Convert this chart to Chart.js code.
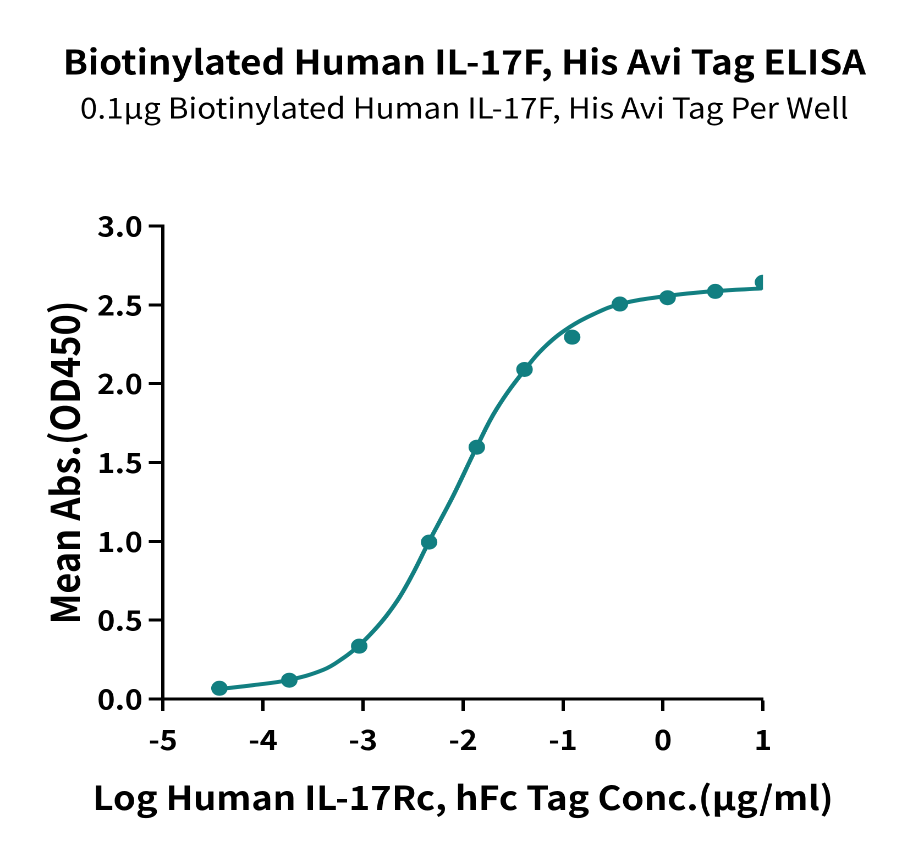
<!DOCTYPE html>
<html>
<head>
<meta charset="utf-8">
<script src="https://cdn.jsdelivr.net/npm/chart.js@4/dist/chart.umd.min.js"></script>
<style>
  html, body { margin: 0; padding: 0; background: #fff; overflow: hidden; }
  /* the reference is a little wider than tall, so stretch the drawing sideways */
  #wrap { width: 818.18px; height: 855px; transform: scaleX(1.1); transform-origin: 0 0; }
</style>
</head>
<body>
<div id="wrap"><canvas id="elisa"></canvas></div>
<script>
// measured points (log conc, OD450)
const logConc = [-4.436, -3.737, -3.038, -2.339, -1.862, -1.385, -0.908, -0.431, 0.046, 0.523, 1.0];
const meanAbs = [0.068, 0.119, 0.335, 0.995, 1.597, 2.09, 2.295, 2.505, 2.545, 2.585, 2.643];

// fitted curve
const curveX = [-4.447, -4.097, -3.747, -3.397, -3.197, -3.047, -2.897, -2.763, -2.63, -2.497, -2.347, -2.23, -2.097, -1.863, -1.663, -1.38, -1.163, -0.93, -0.697, -0.43, 0.037, 0.52, 0.987];
const curveY = [0.062, 0.088, 0.12, 0.185, 0.26, 0.335, 0.43, 0.53, 0.65, 0.8, 0.99, 1.13, 1.29, 1.598, 1.84, 2.09, 2.245, 2.36, 2.44, 2.505, 2.556, 2.587, 2.604];

const xTicks = [-5, -4, -3, -2, -1, 0, 1];
const yTicks = [0, 0.5, 1.0, 1.5, 2.0, 2.5, 3.0];

const X_TITLE = 'Log Human IL-17Rc, hFc Tag Conc.(μg/ml)';
const teal = '#127f81';
const FONT = "'Noto Sans CJK SC', 'Noto Sans', sans-serif";

// Chart.js squeezes an axis title to the plot width; this one is wider, so draw it here
const xTitlePlugin = {
    id: 'xTitle',
    afterDraw(chart) {
        const { ctx, chartArea } = chart;
        ctx.save();
        ctx.font = `bold 33px ${FONT}`;
        ctx.fillStyle = '#000';
        ctx.textAlign = 'center';
        ctx.textBaseline = 'middle';
        ctx.fillText(X_TITLE, (chartArea.left + chartArea.right) / 2, chart.scales.x.bottom - 57.5);
        ctx.restore();
    }
};

new Chart(document.getElementById('elisa'), {
    type: 'scatter',
    data: {
        datasets: [
            {
                label: 'Mean Abs.',
                data: logConc.map((x, i) => ({ x: x, y: meanAbs[i] })),
                backgroundColor: teal,
                borderColor: teal,
                pointRadius: 7,
                pointHoverRadius: 7,
                order: 0
            },
            {
                label: 'Fit',
                data: curveX.map((x, i) => ({ x: x, y: curveY[i] })),
                showLine: true,
                borderColor: teal,
                borderWidth: 4,
                pointRadius: 0,
                tension: 0.4,
                order: 1
            }
        ]
    },
    plugins: [xTitlePlugin],
    options: {
        responsive: true,
        maintainAspectRatio: false,
        animation: false,
        devicePixelRatio: 2,
        layout: { padding: { top: 41.6, left: 26, right: 0, bottom: 0 } },
        plugins: {
            legend: { display: false },
            tooltip: { enabled: false },
            title: {
                display: true,
                text: 'Biotinylated Human IL-17F, His Avi Tag ELISA',
                color: '#000',
                font: { family: FONT, size: 33.5, weight: 'bold', lineHeight: 1.2 },
                padding: { top: 0, bottom: 9 }
            },
            subtitle: {
                display: true,
                text: '0.1μg Biotinylated Human IL-17F, His Avi Tag Per Well',
                color: '#000',
                font: { family: FONT, size: 28.5, lineHeight: 1.2 },
                padding: { top: 0, bottom: 101 }
            }
        },
        scales: {
            x: {
                type: 'linear',
                min: -5,
                max: 1,
                afterBuildTicks: axis => { axis.ticks = xTicks.map(v => ({ value: v })); },
                afterFit: axis => { axis.height = 156; },
                grid: { drawOnChartArea: false, drawTicks: true, tickLength: 12, tickWidth: 3, color: '#000' },
                border: { display: true, color: '#000', width: 3 },
                ticks: {
                    color: '#000',
                    padding: 12,
                    maxRotation: 0,
                    font: { family: FONT, size: 27.5, weight: 'bold', lineHeight: 1.2 },
                    callback: v => String(v)
                },
                title: { display: false }
            },
            y: {
                type: 'linear',
                min: 0,
                max: 3,
                afterBuildTicks: axis => { axis.ticks = yTicks.map(v => ({ value: v })); },
                afterFit: axis => { axis.width = 122.2; },
                grid: { drawOnChartArea: false, drawTicks: true, tickLength: 13, tickWidth: 3, color: '#000' },
                border: { display: true, color: '#000', width: 3 },
                ticks: {
                    color: '#000',
                    padding: 5.5,
                    font: { family: FONT, size: 27.5, weight: 'bold', lineHeight: 1.2 },
                    callback: v => Number(v).toFixed(1)
                },
                title: {
                    display: true,
                    text: 'Mean Abs.(OD450)',
                    color: '#000',
                    font: { family: FONT, size: 36, weight: 'bold', lineHeight: 1.2 },
                    padding: { top: 11.4, bottom: 0 }
                }
            },
            // empty box on the right so the plot ends where the reference does
            spacer: {
                type: 'linear',
                position: 'right',
                afterFit: axis => { axis.width = 124.6; },
                grid: { display: false },
                border: { display: false },
                ticks: { display: false }
            }
        }
    }
});
</script>
</body>
</html>
